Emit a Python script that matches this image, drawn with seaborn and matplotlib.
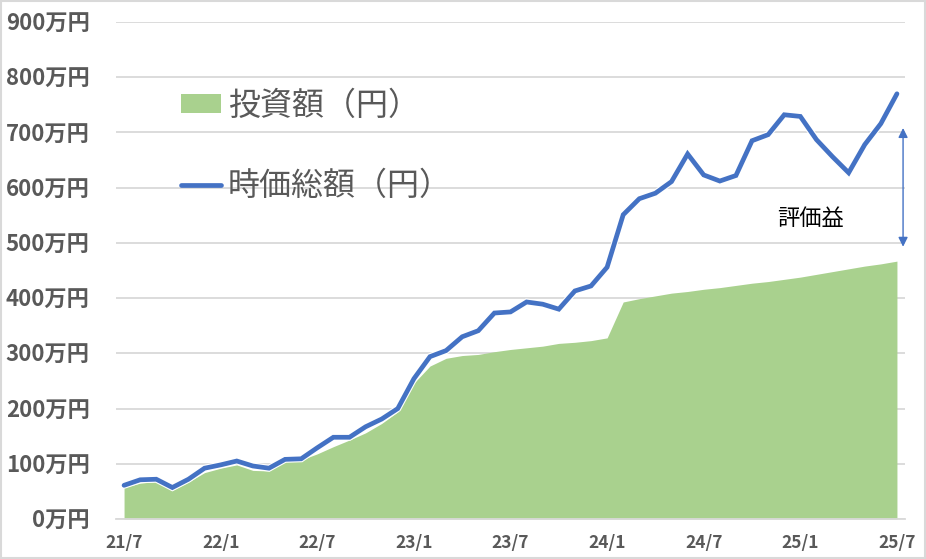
import matplotlib
matplotlib.use("Agg")
import matplotlib.pyplot as plt
import matplotlib.patheffects as pe
from matplotlib.patches import Patch, Rectangle
from matplotlib.lines import Line2D
import numpy as np
import pandas as pd
import seaborn as sns

# 時価総額（万円）21/7 〜 25/7 の月次
market_value = [61, 71, 72, 57, 72, 92, 98, 105, 96, 92, 108, 109, 129, 148, 148,
                167, 181, 200, 254, 294, 305, 330, 341, 373, 375, 393, 389, 380,
                413, 422, 456, 551, 580, 590, 611, 661, 623, 612, 622, 685, 696,
                732, 729, 687, 656, 627, 678, 716, 770]
# 投資額（万円）
invested = [57, 65, 68, 52, 67, 84, 92, 98, 88, 87, 104, 107, 118, 131, 143,
            156, 173, 194, 246, 277, 291, 296, 298, 303, 307, 310, 313, 318,
            320, 323, 328, 393, 399, 404, 409, 412, 416, 419, 423, 427, 430,
            434, 438, 443, 448, 453, 458, 462, 467]
tick_labels = ["21/7", "22/1", "22/7", "23/1", "23/7", "24/1", "24/7", "25/1", "25/7"]
y_ticks = [0, 100, 200, 300, 400, 500, 600, 700, 800, 900]
gain_range = [493, 708]   # 評価益の矢印（万円）

GREEN = "#A9D18E"
BLUE = "#4472C4"
GRAY = "#595959"
GRID = "#D9D9D9"

sns.set_theme(style="white")
plt.rcParams["font.family"] = ["Noto Sans CJK JP", "DejaVu Sans"]

df = pd.DataFrame({"idx": np.arange(len(market_value)),
                   "market": market_value, "invested": invested})

fig = plt.figure(figsize=(9.26, 5.59), dpi=100)
ax = fig.add_axes([116 / 926, 1 - 519 / 559, 789 / 926, 497 / 559])

# 投資額（面）
ax.fill_between(df["idx"], 0, df["invested"], color=GREEN, linewidth=0, zorder=2)
# 時価総額（線）
sns.lineplot(data=df, x="idx", y="market", ax=ax, color=BLUE, linewidth=3.4,
             zorder=3, solid_joinstyle="miter",
             path_effects=[pe.Stroke(linewidth=5.0, foreground="white"), pe.Normal()])

ax.set_xlim(-0.5, len(market_value) - 0.5)
ax.set_ylim(0, 900)
ax.set_yticks(y_ticks)
ax.set_yticklabels([f"{v}万円" for v in y_ticks], fontsize=16, fontweight="bold", color=GRAY)
ax.yaxis.grid(True, color=GRID, linewidth=1.3, zorder=0)
ax.set_axisbelow(True)

ax.set_xticks(np.arange(0, len(market_value), 6))
ax.set_xticklabels(tick_labels, fontsize=12.5, fontweight="bold", color=GRAY)
ax.set_xticks(np.arange(-0.5, len(market_value) - 1, 6), minor=True)
ax.tick_params(axis="x", which="major", length=0, pad=11)
ax.tick_params(axis="x", which="minor", length=5, width=1.3, color=GRID, direction="out")
ax.tick_params(axis="y", length=0, pad=19)
ax.set_xlabel("")
ax.set_ylabel("")

for s in ["left", "right", "top"]:
    ax.spines[s].set_visible(False)
ax.spines["bottom"].set_color(GRID)
ax.spines["bottom"].set_linewidth(1.3)

# 評価益の矢印
ax.annotate("", xy=(48.38, gain_range[0]), xytext=(48.38, gain_range[1]),
            arrowprops=dict(arrowstyle="<|-|>", color=BLUE, lw=1.0,
                            mutation_scale=14, shrinkA=0, shrinkB=0), zorder=4)
ax.text(42.65, 545, "評価益", fontsize=16, color="black", ha="center", va="center")

handles = [Patch(facecolor=GREEN, edgecolor="none"),
           Line2D([0], [0], color=BLUE, linewidth=3.4, solid_capstyle="round")]
leg = ax.legend(handles, ["投資額（円）", "時価総額（円）"], loc="upper left",
                bbox_to_anchor=(0.083, 0.863), frameon=False, fontsize=23,
                handlelength=1.25, handleheight=0.53, handletextpad=0.2,
                labelspacing=1.5, borderpad=0, borderaxespad=0)
for t in leg.get_texts():
    t.set_color(GRAY)

fig.add_artist(Rectangle((0.001, 0.001), 0.998, 0.997, transform=fig.transFigure,
                         fill=False, edgecolor=GRID, linewidth=1.5))

fig.savefig("out.png", dpi=100)
